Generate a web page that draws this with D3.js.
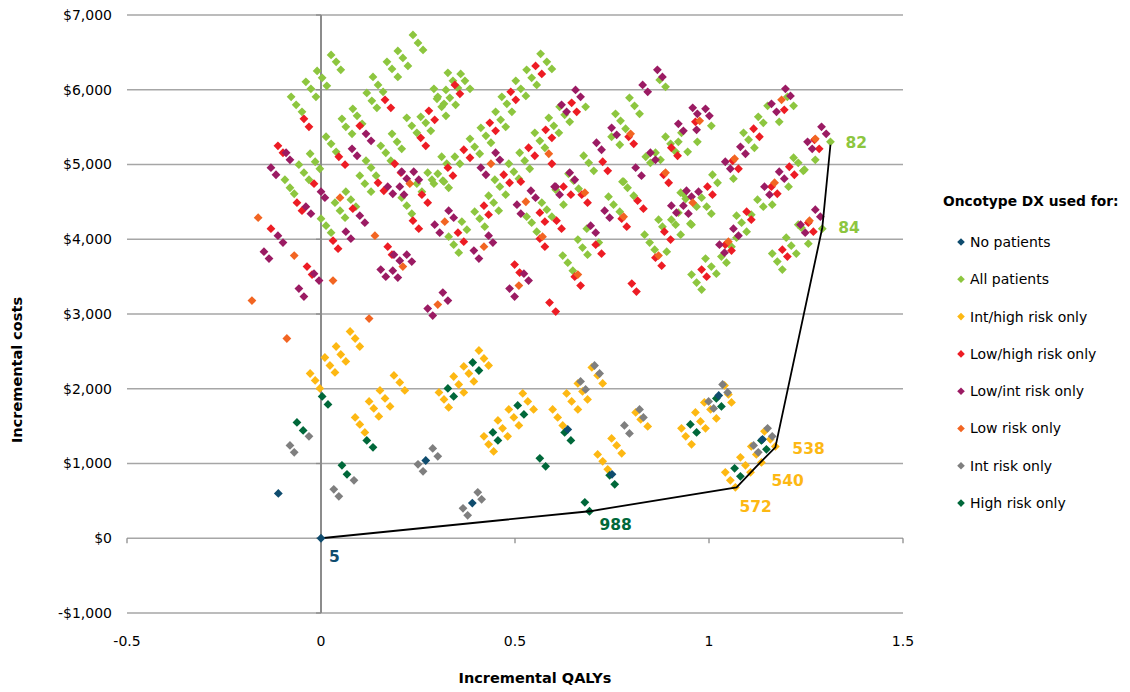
<!DOCTYPE html>
<html>
<head>
<meta charset="utf-8">
<script src="https://cdn.jsdelivr.net/npm/d3@7"></script>
<style>
  body { margin: 0; background: #fff; }
  text { font-family: "DejaVu Sans", Verdana, sans-serif; }
</style>
</head>
<body>
<div id="chart"></div>
<script>
// cost-effectiveness plane: incremental QALYs vs incremental costs,
// one series per Oncotype DX testing strategy, plus the efficient frontier

const xTicks = [-0.5, 0, 0.5, 1, 1.5];
const yTicks = [-1000, 0, 1000, 2000, 3000, 4000, 5000, 6000, 7000];

const seriesNames = ['No patients', 'All patients', 'Int/high risk only', 'Low/high risk only',
  'Low/int risk only', 'Low risk only', 'Int risk only', 'High risk only'];
const seriesColors = ['#0F4C6E', '#8DC63F', '#FDB813', '#ED1C24', '#9B1B63', '#F26522', '#7F7F7F', '#00683A'];

const noPatients = [[0,0],[-0.11,600],[0.27,1040],[0.39,470],[0.636,1456],[0.75,855],[1.025,1910],[1.138,1323]];

const allPatients = [
  [0.026,6466],[0.039,6373],[0.051,6266],[-0.010,6252],[0.003,6159],[0.015,6052],[-0.039,6106],[-0.026,6012],[-0.013,5905],
  [-0.077,5905],[-0.064,5798],[-0.049,5705],[0.237,6733],[0.250,6627],[0.263,6533],[0.198,6520],[0.211,6426],[0.224,6319],
  [0.170,6373],[0.183,6279],[0.198,6172],[0.134,6172],[0.147,6065],[0.160,5972],[0.118,5958],[0.131,5852],[0.144,5758],
  [0.082,5745],[0.093,5651],[0.106,5544],[0.054,5611],[0.064,5504],[0.080,5411],[0.013,5371],[0.026,5277],[0.039,5170],
  [0.183,5411],[0.196,5304],[0.208,5210],[0.154,5250],[0.167,5157],[0.180,5050],[0.116,5050],[0.129,4957],[0.142,4850],
  [-0.028,5144],[-0.015,5037],[-0.003,4943],[-0.057,4997],[-0.044,4890],[-0.031,4796],[-0.093,4796],[-0.080,4689],
  [0.100,4850],[0.113,4743],[0.221,5625],[0.234,5518],[0.247,5424],[0.257,5638],[0.270,5558],[0.283,5451],
  [0.299,5878],[0.311,5772],[0.322,5651],[0.327,6226],[0.340,6119],[0.353,6025],[0.291,6012],[0.301,5905],[0.317,5812],
  [0.322,5998],[0.332,5892],[0.347,5798],[0.311,5104],[0.324,5010],[0.345,5104],[0.358,5010],[0.275,4890],[0.286,4796],
  [0.301,4876],[0.314,4783],[0.566,6480],[0.582,6373],[0.595,6279],[0.530,6266],[0.543,6159],[0.556,6065],
  [0.502,6119],[0.515,6012],[0.528,5918],[0.466,5905],[0.479,5812],[0.492,5705],[0.450,5705],[0.463,5598],[0.476,5504],
  [0.412,5491],[0.425,5384],[0.438,5291],[0.384,5344],[0.396,5237],[0.409,5144],[0.360,6212],[0.371,6119],[0.384,6012],
  [0.484,5010],[0.497,4903],[0.510,4810],[0.448,4796],[0.461,4703],[0.587,5625],[0.600,5518],[0.613,5424],
  [0.551,5424],[0.564,5317],[0.577,5224],[0.512,5157],[0.525,5050],[0.538,4943],[0.615,5772],[0.628,5665],[0.641,5571],
  [0.682,5772],[0.677,5117],[0.690,5023],[0.703,4916],[0.638,4876],[0.651,4783],[0.664,4676],[0.777,4770],[0.790,4689],
  [0.795,5892],[0.808,5785],[0.821,5678],[0.759,5678],[0.772,5584],[0.785,5478],[0.749,5371],[0.770,5264],
  [0.873,6132],[0.888,6039],[0.888,5371],[0.901,5277],[0.914,5170],[0.862,5157],[0.875,5063],[0.837,5104],[0.849,5023],
  [1.151,5785],[1.218,5785],[1.181,5571],[1.202,5905],[1.127,5638],[1.140,5558],[1.089,5424],[1.102,5331],[1.117,5224],
  [1.063,4810],[1.009,4863],[1.022,4756],[0.921,5304],[0.929,5424],[0.945,5170],[0.970,5304],[1.006,5518],
  [1.218,5090],[1.230,5023],[1.243,4916],[1.274,5063],[1.205,4703],[1.163,4462],[1.125,4529],[1.140,4436],[1.109,4329],
  [1.071,4315],[1.084,4222],[1.230,4195],[0.927,4623],[0.940,4542],[0.952,4208],[0.994,4436],[1.006,4342],[0.981,4556],
  [0.968,4436],[1.313,5304],[1.246,4930],[1.292,4142],[0.955,4195],[0.927,4061],[0.991,3741],[1.006,3634],[1.019,3540],
  [0.955,3527],[0.968,3420],[0.981,3327],[1.097,4102],[1.071,4021],[1.058,3901],[1.032,3768],[1.045,3687],
  [1.199,4021],[1.212,3914],[1.225,3808],[1.163,3808],[1.176,3701],[1.189,3594],[1.238,4155],[1.256,3941],
  [0.064,4636],[0.077,4529],[0.090,4436],[0.036,4489],[0.049,4382],[0.062,4289],[0.000,4275],[0.013,4182],[0.026,4088],
  [0.129,4636],[0.208,4556],[0.221,4449],[0.234,4342],[0.247,4743],[0.260,4636],[0.291,4743],[0.317,4770],[0.329,4689],
  [0.363,4235],[0.376,4128],[0.329,4035],[0.342,3928],[0.355,3821],[-0.069,4609],[0.432,4582],[0.445,4489],[0.458,4382],
  [0.396,4369],[0.409,4275],[0.422,4168],[0.476,4596],[0.530,4302],[0.543,4222],[0.556,4102],[0.569,4489],[0.582,4396],
  [0.595,4302],[0.605,4663],[0.625,4462],[0.623,3781],[0.636,3687],[0.649,3580],[0.662,3995],[0.674,3888],[0.687,3794],
  [0.685,4142],[0.716,3955],[0.741,4569],[0.754,4462],[0.770,4369],[0.780,4770],[0.806,4582],[0.834,4061],[0.847,3955],
  [0.860,3861],[0.870,4262],[0.880,4168],[0.891,3834],[0.903,4262],[0.914,4195],[0.934,4609],[0.921,4355]
];

const intHighRisk = [
  [0.075,2766],[0.088,2672],[0.100,2565],[0.039,2565],[0.051,2458],[0.064,2365],[0.010,2418],[0.023,2311],[0.036,2218],
  [-0.028,2204],[-0.015,2111],[-0.003,2004],[0.188,2178],[0.203,2084],[0.216,1977],[0.152,1977],[0.165,1870],[0.178,1764],
  [0.124,1830],[0.136,1737],[0.149,1630],[0.088,1617],[0.100,1523],[0.113,1416],[0.304,1951],[0.317,1857],[0.329,1750],
  [0.342,2164],[0.355,2057],[0.368,1951],[0.368,2298],[0.381,2204],[0.407,2512],[0.420,2405],[0.432,2311],[0.394,2098],
  [0.520,1937],[0.533,1830],[0.548,1723],[0.484,1723],[0.497,1617],[0.510,1510],[0.456,1576],[0.468,1470],[0.481,1363],
  [0.420,1363],[0.432,1256],[0.445,1162],[0.633,1937],[0.646,1830],[0.662,1723],[0.597,1723],[0.610,1617],[0.623,1510],
  [0.698,2285],[0.713,2178],[0.726,2071],[0.662,2071],[0.674,1964],[0.687,1857],[0.811,1683],[0.824,1590],[0.842,1496],
  [0.749,1336],[0.762,1242],[0.775,1136],[0.713,1122],[0.726,1029],[0.739,922],[0.929,1470],[0.940,1363],[0.955,1256],
  [0.965,1683],[0.978,1563],[0.991,1470],[0.988,1817],[1.004,1723],[1.019,1603],[1.040,2044],[1.050,1924],[1.058,1817],
  [1.042,882],[1.055,775],[1.068,681],[1.081,1082],[1.094,975],[1.107,882],[1.109,1229],[1.122,1122],[1.135,1015],
  [1.143,1430],[1.158,1323],[1.171,1229]
];

const lowHighRisk = [
  [-0.044,5611],[-0.031,5504],[-0.111,5250],[-0.098,5157],[0.046,5104],[0.062,4997],[-0.018,4743],[0.165,5865],[0.180,5758],
  [0.100,5518],[0.147,4756],[0.190,5010],[0.206,4890],[0.257,5357],[0.270,5250],[0.278,5718],[0.293,5598],[0.345,6065],
  [0.358,5945],[0.327,4957],[0.340,4850],[0.368,5197],[0.553,6319],[0.569,6212],[0.489,5972],[0.502,5865],[0.435,5558],
  [0.450,5451],[0.384,5090],[0.646,5825],[0.659,5705],[0.579,5464],[0.595,5357],[0.535,5224],[0.551,5117],[0.595,5010],
  [0.471,4863],[0.486,4756],[0.515,4770],[0.793,5371],[0.806,5277],[0.726,5037],[0.739,4916],[0.903,5224],[0.919,5117],
  [0.883,4863],[0.896,4756],[0.625,4703],[1.194,5731],[1.115,5478],[1.130,5371],[1.061,5050],[1.076,4943],[0.996,4703],
  [1.009,4596],[0.965,5571],[1.207,4970],[1.220,4863],[1.161,4703],[1.176,4609],[1.272,5330],[1.284,5210],[1.097,4369],
  [1.256,4222],[0.981,3594],[0.994,3500],[1.058,3848],[1.042,3928],[1.189,3861],[1.202,3768],[1.269,4102],[1.109,4262],
  [-0.062,4489],[-0.049,4382],[-0.129,4142],[0.031,3981],[0.044,3874],[-0.036,3634],[-0.023,3527],[0.082,4409],
  [0.162,4649],[0.172,3901],[0.183,3794],[0.237,4248],[0.252,4142],[0.260,4596],[0.275,4489],[0.353,4088],[0.368,3968],
  [0.420,4449],[0.432,4329],[0.564,4355],[0.577,4235],[0.607,4248],[0.620,4142],[0.564,4008],[0.577,3901],[0.644,4596],
  [0.672,4596],[0.687,4489],[0.708,3928],[0.723,3807],[0.775,4275],[0.788,4168],[0.816,4516],[0.831,4409],[0.885,4102],
  [0.901,3995],[0.862,3754],[0.878,3647],[0.499,3661],[0.512,3554],[0.654,3500],[0.669,3380],[0.801,3407],[0.813,3300],
  [0.589,3153],[0.605,3033]
];

const lowIntRisk = [
  [-0.039,4436],[-0.026,4342],[0.000,4636],[0.010,4556],[-0.111,4048],[-0.098,3955],[-0.147,3834],[-0.134,3741],
  [-0.018,3540],[-0.005,3447],[-0.057,3340],[-0.044,3233],[0.100,4315],[0.113,4222],[0.064,4102],[0.077,4008],
  [0.172,4703],[0.185,4609],[0.203,4703],[0.214,4596],[0.188,3794],[0.203,3714],[0.221,3794],[0.234,3701],[0.154,3594],
  [0.167,3500],[0.185,3580],[0.198,3487],[0.329,4382],[0.342,4289],[0.293,4195],[0.306,4088],[0.314,3287],[0.327,3180],
  [0.275,3073],[0.288,2979],[-0.090,5157],[-0.080,5063],[-0.129,4957],[-0.116,4863],[0.080,5210],[0.093,5117],
  [0.116,5411],[0.129,5317],[0.208,4903],[0.221,4810],[0.239,4903],[0.252,4796],[0.412,4957],[0.425,4863],[0.450,5157],
  [0.461,5063],[0.620,5798],[0.633,5705],[0.656,5998],[0.669,5905],[0.710,5291],[0.723,5197],[0.641,4890],[0.654,4796],
  [0.602,4703],[0.749,5491],[0.762,5397],[0.811,4957],[0.826,4850],[0.829,6065],[0.842,5972],[0.867,6266],[0.880,6172],
  [0.849,5157],[0.862,5063],[0.921,5544],[0.934,5451],[0.505,4462],[0.515,4342],[0.541,4649],[0.553,4556],[0.605,4703],
  [0.615,4596],[0.432,4048],[0.443,3955],[0.394,3848],[0.407,3741],[0.523,3540],[0.535,3447],[0.486,3340],[0.499,3233],
  [0.695,4182],[0.708,4088],[0.731,4382],[0.744,4289],[0.903,4449],[0.916,4355],[0.942,4649],[0.958,5758],[0.970,5678],
  [0.991,5745],[1.001,5651],[0.968,5464],[1.197,6012],[1.210,5918],[1.161,5812],[1.174,5705],[1.290,5504],[1.302,5411],
  [1.254,5304],[1.266,5210],[1.081,5237],[1.094,5144],[1.042,5037],[1.055,4943],[1.181,4903],[1.194,4810],[1.143,4703],
  [1.156,4596],[1.274,4395],[1.287,4302],[1.236,4195],[0.955,4569],[0.973,4636],[0.934,4449],[0.947,4342],[1.063,4142],
  [1.076,4048],[1.027,3928],[1.040,3821],[1.248,4088]
];

const lowRisk = [
  [-0.162,4288],[-0.069,3781],[-0.178,3180],[-0.088,2672],[0.031,3447],[0.049,4556],[0.139,4048],[0.124,2939],
  [0.211,3634],[0.229,4743],[0.319,4235],[0.301,3126],[0.528,4502],[0.420,3901],[0.510,3380],[0.571,4035],[0.662,3527],
  [0.680,4623],[0.780,4302],[0.870,3781],[0.438,5010],[0.587,5144],[0.798,5411],[0.888,4890],[0.976,5584],[1.187,5865],
  [1.274,5344],[1.066,5077],[1.169,4756],[0.958,4489],[1.259,4248],[1.050,3968]
];

const intRisk = [
  [-0.080,1242],[-0.069,1149],[-0.031,1363],[0.033,655],[0.046,561],[0.085,775],[0.250,989],[0.263,895],[0.288,1202],
  [0.301,1096],[0.366,401],[0.378,307],[0.404,615],[0.414,521],[0.705,2311],[0.718,2204],[0.669,2098],[0.682,1991],
  [0.782,1510],[0.795,1403],[0.821,1723],[0.831,1617],[1.035,2057],[1.048,1951],[0.999,1830],[1.012,1737],[1.151,1470],
  [1.163,1363],[1.115,1242],[1.127,1149]
];

const highRisk = [
  [0.003,1897],[0.018,1790],[-0.062,1549],[-0.046,1443],[0.054,975],[0.067,855],[0.118,1309],[0.134,1216],[0.327,2004],
  [0.342,1897],[0.391,2351],[0.407,2244],[0.507,1777],[0.523,1657],[0.443,1416],[0.456,1309],[0.628,1416],[0.644,1309],
  [0.564,1069],[0.579,962],[0.744,842],[0.757,721],[0.680,481],[0.692,361],[0.952,1523],[0.968,1416],[1.019,1870],
  [1.032,1764],[1.066,935],[1.081,828],[1.135,1309],[1.148,1189]
];

// efficient frontier and the labels on its points
const frontierX = [0, 0.692, 1.071, 1.120, 1.171, 1.292, 1.313];
const frontierY = [0, 361, 681, 949, 1216, 4155, 5264];
const frontierLabels = ['5', '988', '572', '540', '538', '84', '82'];
const frontierLabelSeries = [0, 7, 2, 2, 2, 1, 1];

const allSeries = [noPatients, allPatients, intHighRisk, lowHighRisk, lowIntRisk, lowRisk, intRisk, highRisk];

const W = 1130, H = 692;
const margin = { left: 127, right: 227, top: 15, bottom: 79 };

const svg = d3.select('#chart').append('svg')
  .attr('width', W)
  .attr('height', H);

const x = d3.scaleLinear().domain([-0.5, 1.5]).range([margin.left, W - margin.right]);
const y = d3.scaleLinear().domain([-1000, 7000]).range([H - margin.bottom, margin.top]);

// horizontal gridlines
svg.append('g')
  .selectAll('line')
  .data(yTicks)
  .enter()
  .append('line')
  .attr('x1', x(-0.5))
  .attr('x2', x(1.5))
  .attr('y1', d => y(d))
  .attr('y2', d => y(d))
  .attr('stroke', '#A6A6A6')
  .attr('stroke-width', 1.3);

// vertical axis crossing at x = 0, ticks to the left
svg.append('line')
  .attr('x1', x(0)).attr('x2', x(0))
  .attr('y1', y(7000)).attr('y2', y(-1000))
  .attr('stroke', '#8C8C8C')
  .attr('stroke-width', 2);
svg.append('g')
  .selectAll('line')
  .data(yTicks)
  .enter()
  .append('line')
  .attr('x1', x(0) - 5).attr('x2', x(0))
  .attr('y1', d => y(d)).attr('y2', d => y(d))
  .attr('stroke', '#8C8C8C')
  .attr('stroke-width', 1.3);

// horizontal axis ticks at y = 0
svg.append('g')
  .selectAll('line')
  .data(xTicks)
  .enter()
  .append('line')
  .attr('x1', d => x(d)).attr('x2', d => x(d))
  .attr('y1', y(0)).attr('y2', y(0) + 5)
  .attr('stroke', '#8C8C8C')
  .attr('stroke-width', 1.3);

// tick labels sit at the low edge of the plot
const fmt = d => (d < 0 ? '-$' : '$') + d3.format(',')(Math.abs(d));
svg.append('g')
  .selectAll('text')
  .data(yTicks)
  .enter()
  .append('text')
  .attr('x', 112)
  .attr('y', d => y(d))
  .attr('dy', '0.35em')
  .attr('text-anchor', 'end')
  .attr('font-size', 14)
  .attr('fill', '#000')
  .text(fmt);

svg.append('g')
  .selectAll('text')
  .data(xTicks)
  .enter()
  .append('text')
  .attr('x', d => x(d))
  .attr('y', 641)
  .attr('dy', '0.35em')
  .attr('text-anchor', 'middle')
  .attr('font-size', 14)
  .text(d => d);

svg.append('text')
  .attr('transform', 'translate(22,370) rotate(-90)')
  .attr('text-anchor', 'middle')
  .attr('font-size', 14.5)
  .attr('font-weight', 'bold')
  .text('Incremental costs');

svg.append('text')
  .attr('x', 535)
  .attr('y', 678)
  .attr('dy', '0.35em')
  .attr('text-anchor', 'middle')
  .attr('font-size', 14.5)
  .attr('font-weight', 'bold')
  .text('Incremental QALYs');

const diamond = r => `M0,${-r}L${r},0L0,${r}L${-r},0Z`;

function drawSeries(i) {
  svg.append('g')
    .selectAll('path')
    .data(allSeries[i])
    .enter()
    .append('path')
    .attr('d', diamond(4.4))
    .attr('transform', d => `translate(${x(d[0])},${y(d[1])})`)
    .attr('fill', seriesColors[i]);
}

for (let i = 1; i < allSeries.length; i++) drawSeries(i);

// frontier line
svg.append('path')
  .datum(frontierX.map((v, i) => [v, frontierY[i]]))
  .attr('d', d3.line().x(d => x(d[0])).y(d => y(d[1])))
  .attr('fill', 'none')
  .attr('stroke', '#000')
  .attr('stroke-width', 1.8);

drawSeries(0);

// labels next to the frontier points
const labelOffsets = [[8, 18], [10, 13], [3, 19], [16, 13], [17, 1], [16, 0], [15, -2]];
svg.append('g')
  .selectAll('text')
  .data(frontierLabels)
  .enter()
  .append('text')
  .attr('x', (d, i) => x(frontierX[i]) + labelOffsets[i][0])
  .attr('y', (d, i) => y(frontierY[i]) + labelOffsets[i][1])
  .attr('dy', '0.35em')
  .attr('font-size', 15.5)
  .attr('font-weight', 'bold')
  .attr('fill', (d, i) => seriesColors[frontierLabelSeries[i]])
  .text(d => d);

// legend
const legend = svg.append('g');
legend.append('text')
  .attr('x', 943)
  .attr('y', 201)
  .attr('dy', '0.35em')
  .attr('font-size', 13.8)
  .attr('font-weight', 'bold')
  .text('Oncotype DX used for:');

const items = legend.selectAll('g.item')
  .data(seriesNames)
  .enter()
  .append('g')
  .attr('class', 'item')
  .attr('transform', (d, i) => `translate(961,${242 + i * 37.3})`);
items.append('path')
  .attr('d', diamond(3.8))
  .attr('fill', (d, i) => seriesColors[i]);
items.append('text')
  .attr('x', 9)
  .attr('dy', '0.35em')
  .attr('font-size', 14)
  .text(d => d);
</script>
</body>
</html>
